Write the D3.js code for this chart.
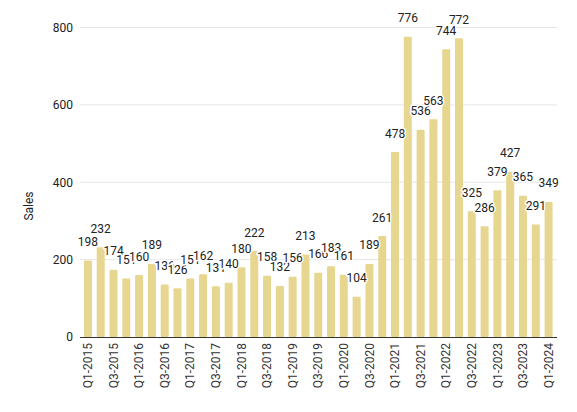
<!DOCTYPE html>
<html><head><meta charset="utf-8">
<script src="https://cdn.jsdelivr.net/npm/d3@7"></script>
<style>
body{margin:0;background:#fff;}
text{font-family:Roboto,"Liberation Sans",Arial,sans-serif;}
</style></head>
<body><svg id="c" width="577" height="412"></svg>
<script>
const quarters = ["Q1-2015","Q2-2015","Q3-2015","Q4-2015","Q1-2016","Q2-2016","Q3-2016","Q4-2016",
"Q1-2017","Q2-2017","Q3-2017","Q4-2017","Q1-2018","Q2-2018","Q3-2018","Q4-2018",
"Q1-2019","Q2-2019","Q3-2019","Q4-2019","Q1-2020","Q2-2020","Q3-2020","Q4-2020",
"Q1-2021","Q2-2021","Q3-2021","Q4-2021","Q1-2022","Q2-2022","Q3-2022","Q4-2022",
"Q1-2023","Q2-2023","Q3-2023","Q4-2023","Q1-2024"];
const sales = [198,232,174,151,160,189,136,126,151,162,131,140,180,222,158,132,156,213,166,183,161,104,189,261,478,776,536,563,744,772,325,286,379,427,365,291,349];
const yTicks = [0,200,400,600,800];
const xTickLabels = quarters.filter((q,i)=>i%2===0);

const svg = d3.select("#c");
const x = d3.scaleBand().domain(quarters).range([81.5,555]).paddingInner(0.375).paddingOuter(0.19);
const y = d3.scaleLinear().domain([0,800]).range([337,27.5]);

// gridlines
svg.append("g").selectAll("line").data(yTicks.filter(d=>d>0)).join("line")
  .attr("x1",80).attr("x2",557).attr("y1",d=>y(d)).attr("y2",d=>y(d))
  .attr("stroke","#e6e6e6").attr("stroke-width",1);

// y axis labels
const ya = svg.append("g").attr("transform","translate(80,0)")
  .call(d3.axisLeft(y).tickValues(yTicks).tickSize(0).tickPadding(7));
ya.select(".domain").remove();
ya.selectAll("text").attr("font-size",12).attr("fill","#222").style("font-family","Roboto,Arial,sans-serif");

// bars
svg.append("g").selectAll("rect").data(sales).join("rect")
  .attr("x",(d,i)=>x(quarters[i])).attr("width",x.bandwidth())
  .attr("y",d=>y(d)).attr("height",d=>y(0)-y(d))
  .attr("rx",1).attr("fill","#e6d690");

// x axis
const xa = svg.append("g").attr("transform","translate(0,337)")
  .call(d3.axisBottom(x).tickValues(xTickLabels).tickSize(0).tickPadding(6).tickSizeOuter(0));
xa.select(".domain").attr("d","M80,0.5H557").attr("stroke","#333");
xa.selectAll("text").attr("font-size",12).attr("fill","#333")
  .attr("transform","rotate(-90)").attr("text-anchor","end")
  .attr("x",-6).attr("y",0).attr("dy","0.35em").style("font-family","Roboto,Arial,sans-serif");

// data labels
svg.append("g").selectAll("text").data(sales).join("text")
  .attr("x",(d,i)=>x(quarters[i])+x.bandwidth()/2)
  .attr("y",d=>y(d)-14.5)
  .attr("text-anchor","middle").attr("font-size",12).attr("fill","#222")
  .attr("stroke","#fff").attr("stroke-width",3).attr("paint-order","stroke")
  .attr("stroke-linejoin","round")
  .text(d=>d);

// y title
svg.append("text").attr("transform","translate(33,206) rotate(-90)")
  .attr("text-anchor","middle").attr("font-size",12).attr("fill","#222").text("Sales");
</script></body></html>
